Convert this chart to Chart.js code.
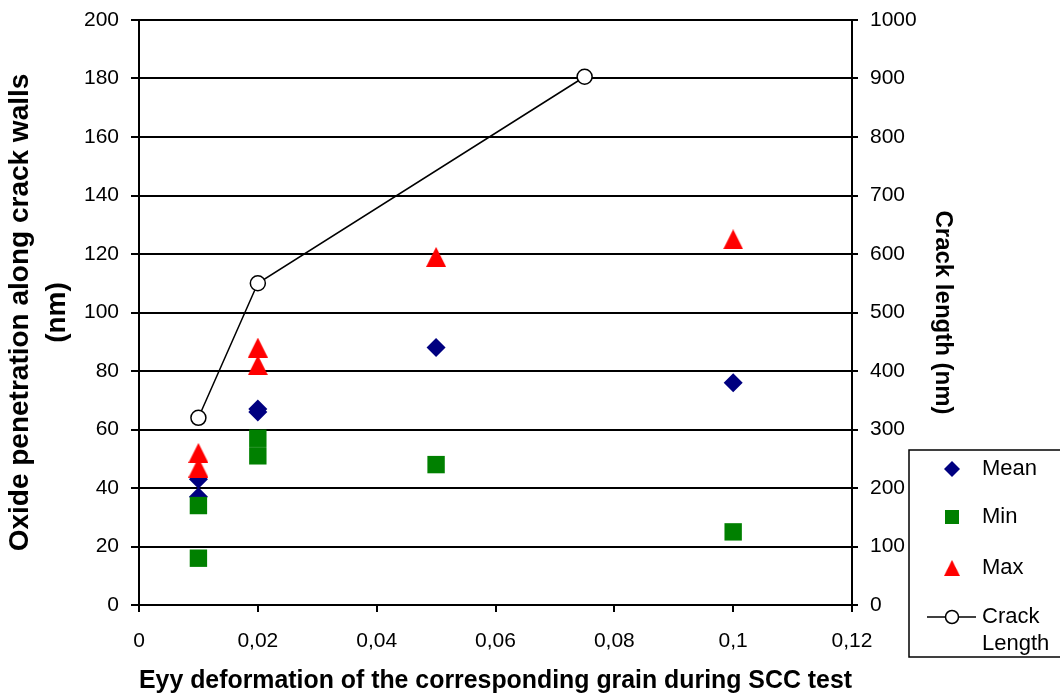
<!DOCTYPE html>
<html lang="en">
<head>
    <meta charset="UTF-8">
    <title>Oxide penetration vs Eyy deformation</title>
    <script src="https://cdn.jsdelivr.net/npm/chart.js"></script>
    <style>
        body {
            margin: 0;
            background: white;
        }
        #chart {
            width: 1060px;
            height: 696px;
        }
    </style>
</head>
<body>
<div id="chart">
    <canvas id="oxideChart" width="1060" height="696"></canvas>
</div>
<script>
    // values
    const strainX   = [0.01, 0.01, 0.02, 0.02, 0.05, 0.1];
    const meanVals  = [43, 37, 67, 66, 88, 76];
    const minVals   = [34, 16, 57, 51, 48, 25];
    const maxVals   = [52, 47, 88, 82, 119, 125];
    const crackX    = [0.01, 0.02, 0.075];
    const crackVals = [320, 550, 903];

    const FONT = "'Liberation Sans', Arial, sans-serif";

    function pts(xs, ys) {
        return xs.map((x, i) => ({ x: x, y: ys[i] }));
    }

    // excel style triangle, centred on its bounding box
    function makeTriangle(w, h, color) {
        const c = document.createElement('canvas');
        c.width = w;
        c.height = h;
        const g = c.getContext('2d');
        g.fillStyle = color;
        g.beginPath();
        g.moveTo(w / 2, 0);
        g.lineTo(w, h);
        g.lineTo(0, h);
        g.closePath();
        g.fill();
        return c;
    }
    const triangle = makeTriangle(20, 20, '#ff0000');

    // legend box drawn by hand, sitting over the lower right corner
    const legendBox = {
        id: 'legendBox',
        afterDraw(chart) {
            const ctx = chart.ctx;
            ctx.save();
            ctx.fillStyle = '#fff';
            ctx.fillRect(909, 450, 160, 207);
            ctx.strokeStyle = '#000';
            ctx.lineWidth = 1.5;
            ctx.strokeRect(909, 450, 160, 207);

            const mx = 952;
            // Mean
            ctx.fillStyle = '#000080';
            ctx.beginPath();
            ctx.moveTo(mx, 469 - 8);
            ctx.lineTo(mx + 8, 469);
            ctx.lineTo(mx, 469 + 8);
            ctx.lineTo(mx - 8, 469);
            ctx.closePath();
            ctx.fill();
            // Min
            ctx.fillStyle = '#008000';
            ctx.fillRect(mx - 7, 517 - 7, 14, 14);
            // Max
            ctx.drawImage(triangle, mx - 8, 568 - 8, 16, 16);
            // Crack length
            ctx.strokeStyle = '#000';
            ctx.lineWidth = 1.5;
            ctx.beginPath();
            ctx.moveTo(927, 617);
            ctx.lineTo(976, 617);
            ctx.stroke();
            ctx.fillStyle = '#fff';
            ctx.beginPath();
            ctx.arc(mx, 617, 6.5, 0, Math.PI * 2);
            ctx.fill();
            ctx.stroke();

            ctx.fillStyle = '#000';
            ctx.font = '22px ' + FONT;
            ctx.textBaseline = 'middle';
            ctx.textAlign = 'left';
            ctx.fillText('Mean', 982, 469);
            ctx.fillText('Min', 982, 517);
            ctx.fillText('Max', 982, 568);
            ctx.fillText('Crack', 982, 617);
            ctx.fillText('Length', 982, 644);
            ctx.restore();
        }
    };

    function fmtStrain(v) {
        return String(+v.toFixed(2)).replace('.', ',');
    }

    const ctx = document.getElementById('oxideChart').getContext('2d');
    new Chart(ctx, {
        type: 'scatter',
        data: {
            datasets: [
                {
                    label: 'Mean',
                    data: pts(strainX, meanVals),
                    yAxisID: 'y',
                    pointStyle: 'rectRot',
                    pointRadius: 9.5,
                    backgroundColor: '#000080',
                    borderWidth: 0,
                    order: 3
                },
                {
                    label: 'Min',
                    data: pts(strainX, minVals),
                    yAxisID: 'y',
                    pointStyle: 'rect',
                    pointRadius: 12.3,
                    backgroundColor: '#008000',
                    borderWidth: 0,
                    order: 2
                },
                {
                    label: 'Max',
                    data: pts(strainX, maxVals),
                    yAxisID: 'y',
                    pointStyle: triangle,
                    backgroundColor: '#ff0000',
                    borderWidth: 0,
                    order: 1
                },
                {
                    label: 'Crack Length',
                    data: pts(crackX, crackVals),
                    yAxisID: 'y2',
                    showLine: true,
                    borderColor: '#000',
                    borderWidth: 1.5,
                    pointStyle: 'circle',
                    pointRadius: 7.5,
                    pointBackgroundColor: '#fff',
                    pointBorderColor: '#000',
                    pointBorderWidth: 1.5,
                    order: 0
                }
            ]
        },
        options: {
            responsive: false,
            animation: false,
            layout: { padding: { top: 20, left: 0, right: 0, bottom: 0 } },
            plugins: {
                legend: { display: false },
                tooltip: { enabled: false }
            },
            scales: {
                x: {
                    type: 'linear',
                    min: 0,
                    max: 0.12,
                    afterFit(scale) { scale.height = 91; },
                    ticks: {
                        stepSize: 0.02,
                        color: '#000',
                        font: { family: FONT, size: 21 },
                        padding: 17,
                        maxRotation: 0,
                        callback: v => fmtStrain(v)
                    },
                    grid: {
                        drawOnChartArea: false,
                        drawTicks: true,
                        tickLength: 7,
                        color: '#000',
                        lineWidth: 2
                    },
                    border: { display: true, color: '#000', width: 2 },
                    title: {
                        display: true,
                        text: 'Eyy deformation of the corresponding grain during SCC test',
                        color: '#000',
                        font: { family: FONT, size: 25.5, weight: 'bold', lineHeight: 1.2 },
                        padding: { top: 0, bottom: 0 }
                    }
                },
                y: {
                    position: 'left',
                    min: 0,
                    max: 200,
                    afterFit(scale) {
                        scale.width = 139;
                        scale.paddingTop = 0;
                        scale.paddingBottom = 0;
                    },
                    ticks: {
                        stepSize: 20,
                        color: '#000',
                        font: { family: FONT, size: 21 },
                        padding: 12
                    },
                    grid: {
                        color: '#000',
                        lineWidth: 2,
                        drawTicks: true,
                        tickLength: 8
                    },
                    border: { display: true, color: '#000', width: 2 },
                    title: {
                        display: true,
                        text: ['Oxide penetration along crack walls', '(nm)'],
                        color: '#000',
                        font: { family: FONT, size: 28, weight: 'bold', lineHeight: 1.32 },
                        padding: { top: 2, bottom: 0 }
                    }
                },
                y2: {
                    position: 'right',
                    min: 0,
                    max: 1000,
                    afterFit(scale) {
                        scale.width = 208;
                        scale.paddingTop = 0;
                        scale.paddingBottom = 0;
                    },
                    ticks: {
                        stepSize: 100,
                        color: '#000',
                        font: { family: FONT, size: 21 },
                        padding: 12,
                        callback: v => String(v)
                    },
                    grid: {
                        drawOnChartArea: false,
                        drawTicks: true,
                        tickLength: 6,
                        color: '#000',
                        lineWidth: 2
                    },
                    border: { display: true, color: '#000', width: 2 },
                    title: {
                        display: true,
                        text: 'Crack length (nm)',
                        color: '#000',
                        font: { family: FONT, size: 24, weight: 'bold', lineHeight: 1.2 },
                        padding: { top: 103, bottom: 0 }
                    }
                }
            }
        },
        plugins: [legendBox]
    });
</script>
</body>
</html>
